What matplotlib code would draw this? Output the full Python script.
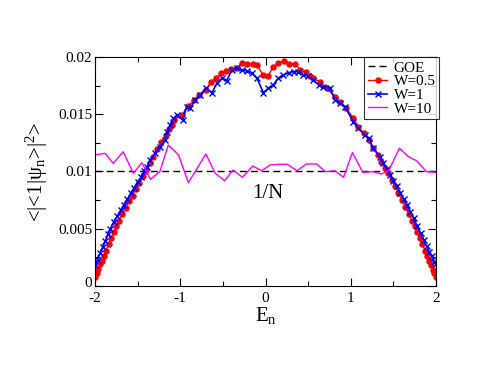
import matplotlib
matplotlib.use("Agg")
import matplotlib.pyplot as plt
import matplotlib.transforms as mtransforms
from matplotlib.ticker import MultipleLocator, FuncFormatter

plt.rcParams['font.family'] = ['Liberation Serif', 'DejaVu Serif']
plt.rcParams['axes.unicode_minus'] = False
plt.rcParams['mathtext.fontset'] = 'custom'
plt.rcParams['mathtext.rm'] = 'Liberation Serif'
plt.rcParams['mathtext.it'] = 'Liberation Serif'

# W=0.5
e_w05 = [-2.00, -1.98, -1.96, -1.94, -1.92, -1.90, -1.87, -1.84, -1.81, -1.78, -1.75, -1.72,
         -1.68, -1.64, -1.60, -1.56, -1.52, -1.48, -1.44, -1.40, -1.36, -1.32, -1.27, -1.22,
         -1.17, -1.13, -1.10, -1.07, -0.983, -0.905, -0.835, -0.777, -0.70, -0.64, -0.58,
         -0.52, -0.46, -0.40, -0.34, -0.28, -0.22, -0.15, -0.10, -0.03, 0.03, 0.09, 0.15,
         0.22, 0.28, 0.35, 0.41, 0.47, 0.52, 0.56, 0.64, 0.72, 0.815, 0.87, 0.95, 1.03,
         1.09, 1.15, 1.21, 1.265, 1.32, 1.36, 1.40, 1.44, 1.48, 1.52, 1.56, 1.60, 1.64,
         1.68, 1.72, 1.75, 1.78, 1.81, 1.84, 1.87, 1.90, 1.92, 1.94, 1.96, 1.98, 2.00]
v_w05 = [0.0008, 0.0011, 0.0015, 0.0019, 0.0022, 0.0026, 0.0031, 0.0037, 0.0042, 0.0047, 0.0052, 0.0057,
         0.0063, 0.0068, 0.0074, 0.0079, 0.0085, 0.0090, 0.0096, 0.0101, 0.0107, 0.0113, 0.0120, 0.0126,
         0.0132, 0.0137, 0.01406, 0.0145, 0.01493, 0.01572, 0.01624, 0.01668, 0.01712, 0.01784, 0.01814,
         0.01858, 0.01878, 0.01895, 0.01901, 0.01945, 0.01936, 0.01939, 0.0193, 0.01843, 0.01834, 0.01915, 0.01945,
         0.01968, 0.01939, 0.01936, 0.01886, 0.01866, 0.0183, 0.01814, 0.01784, 0.01727, 0.01653, 0.0161, 0.01552, 0.01465,
         0.01391, 0.01334, 0.01275, 0.01203, 0.01144, 0.0108, 0.0103, 0.0099, 0.0093, 0.0087, 0.0081, 0.0075, 0.0069,
         0.0063, 0.0057, 0.0052, 0.0047, 0.0042, 0.0037, 0.0031, 0.0026, 0.0022, 0.0018, 0.0014, 0.0011, 0.0008]

# W=1
e_w1 = [-2.00, -1.97, -1.94, -1.91, -1.88, -1.85, -1.82, -1.78, -1.74, -1.70, -1.66, -1.62,
        -1.58, -1.54, -1.50, -1.46, -1.42, -1.39, -1.355, -1.296, -1.24, -1.18, -1.15, -1.12,
        -1.08, -1.035, -0.97, -0.925, -0.88, -0.83, -0.77, -0.70, -0.63, -0.57, -0.51, -0.455,
        -0.395, -0.34, -0.28, -0.22, -0.16, -0.10, -0.025, 0.033, 0.09, 0.15, 0.21, 0.27,
        0.33, 0.385, 0.445, 0.50, 0.56, 0.63, 0.68, 0.757, 0.815, 0.875, 0.93, 1.03, 1.09,
        1.17, 1.21, 1.265, 1.34, 1.38, 1.42, 1.46, 1.50, 1.54, 1.58, 1.62, 1.66, 1.70, 1.74,
        1.78, 1.82, 1.86, 1.89, 1.92, 1.95, 1.98, 2.00]
v_w1 = [0.0018, 0.0023, 0.0029, 0.0034, 0.0039, 0.0045, 0.0050, 0.0056, 0.0061, 0.0066, 0.0071, 0.0076,
        0.0081, 0.0086, 0.0091, 0.0095, 0.0100, 0.0104, 0.0110, 0.01159, 0.01217, 0.01275, 0.01348, 0.01406,
        0.01465, 0.01493, 0.0145, 0.01566, 0.01552, 0.01624, 0.01668, 0.01727, 0.01688, 0.0177, 0.01814, 0.01793,
        0.01886, 0.01901, 0.01886, 0.01878, 0.01858, 0.01814, 0.01688, 0.01727, 0.01755, 0.01814, 0.01843, 0.01863,
        0.01872, 0.01872, 0.01843, 0.01834, 0.01799, 0.01755, 0.0174, 0.01727, 0.01624, 0.01596, 0.01566, 0.01435, 0.01377,
        0.01319, 0.0129, 0.01203, 0.0113, 0.0107, 0.0102, 0.0097, 0.0092, 0.0087, 0.0081, 0.0076, 0.0071, 0.0065, 0.0059,
        0.0052, 0.0046, 0.0040, 0.0035, 0.0030, 0.0026, 0.0021, 0.0019]

# W=10
e_w10 = [-2.0, -1.883, -1.785, -1.67, -1.55, -1.45, -1.35, -1.24, -1.14, -1.02, -0.905, -0.70,
         -0.59, -0.48, -0.38, -0.27, -0.15, -0.045, 0.053, 0.15, 0.255, 0.37, 0.48, 0.60,
         0.70, 0.815, 0.915, 1.02, 1.14, 1.265, 1.36, 1.45, 1.57, 1.675, 1.77, 1.89, 2.0]
v_w10 = [0.01144, 0.01159, 0.01072, 0.01173, 0.00984, 0.01077, 0.00932, 0.00998, 0.01231, 0.01144, 0.00902, 0.01153,
         0.00984, 0.0092, 0.01013, 0.00949, 0.01048, 0.01007, 0.01057, 0.01063, 0.01063, 0.01007, 0.01066, 0.01066,
         0.00998, 0.01007, 0.00949, 0.01165, 0.00993, 0.00998, 0.00978, 0.01013, 0.01203, 0.0113, 0.01095, 0.00998, 0.00993]

goe_level = 0.01

fig = plt.figure(figsize=(4.94, 3.82), dpi=100)
ax = fig.add_axes([0.1923, 0.2513, 0.6903, 0.5995])

ax.plot([-2, 2], [goe_level, goe_level], color='black', linestyle=(0, (5, 3)), lw=1.0, label='GOE')
ax.plot(e_w05, v_w05, color='red', marker='o', markersize=3.6, lw=1.0, label='W=0.5')
ax.plot(e_w1, v_w1, color='blue', marker='x', markersize=4.5, markeredgewidth=1.0, lw=1.2, label='W=1')
ax.plot(e_w10, v_w10, color='#ff00ff', lw=1.0, label='W=10')

ax.set_xlim(-2, 2)
ax.set_ylim(0, 0.02)
ax.xaxis.set_major_locator(MultipleLocator(1))
ax.xaxis.set_minor_locator(MultipleLocator(0.5))
ax.yaxis.set_major_locator(MultipleLocator(0.005))
ax.yaxis.set_minor_locator(MultipleLocator(0.0025))
ax.xaxis.set_major_formatter(FuncFormatter(lambda v, p: '%g' % v))
ax.yaxis.set_major_formatter(FuncFormatter(lambda v, p: '%g' % round(v, 4)))
ax.tick_params(which='both', direction='in', top=True, right=True, labelsize=11)
ax.tick_params(axis='y', pad=2)
ax.tick_params(axis='x', pad=4)
ax.tick_params(which='major', length=6, width=0.8)
ax.tick_params(which='minor', length=3.5, width=0.8)

ax.set_xlabel(r'E$_\mathregular{n}$', fontsize=15, labelpad=0)
ax.set_ylabel(r'<|<1|ψ$_\mathregular{n}$>|$^\mathregular{2}$>', fontsize=15, labelpad=6)

ax.text(0.03, 0.0081, '1/N', fontsize=15, ha='center', va='center')

leg = ax.legend(loc='upper right', bbox_to_anchor=(1.01, 1.0), fontsize=11, frameon=True,
                fancybox=False, edgecolor='black', handlelength=1.3, handletextpad=0.4,
                labelspacing=0.0, borderpad=0.25, borderaxespad=0, markerscale=1.0)
leg.get_frame().set_linewidth(0.8)

fig.canvas.draw()
# nudge the y "0" label up slightly so it does not collide with the x "-2" label
ylabels = ax.get_yticklabels()
for lab in ylabels:
    if lab.get_text() == '0':
        lab.set_transform(lab.get_transform() + mtransforms.ScaledTranslation(0, 3 / 72, fig.dpi_scale_trans))

fig.savefig('out.png', dpi=100)
